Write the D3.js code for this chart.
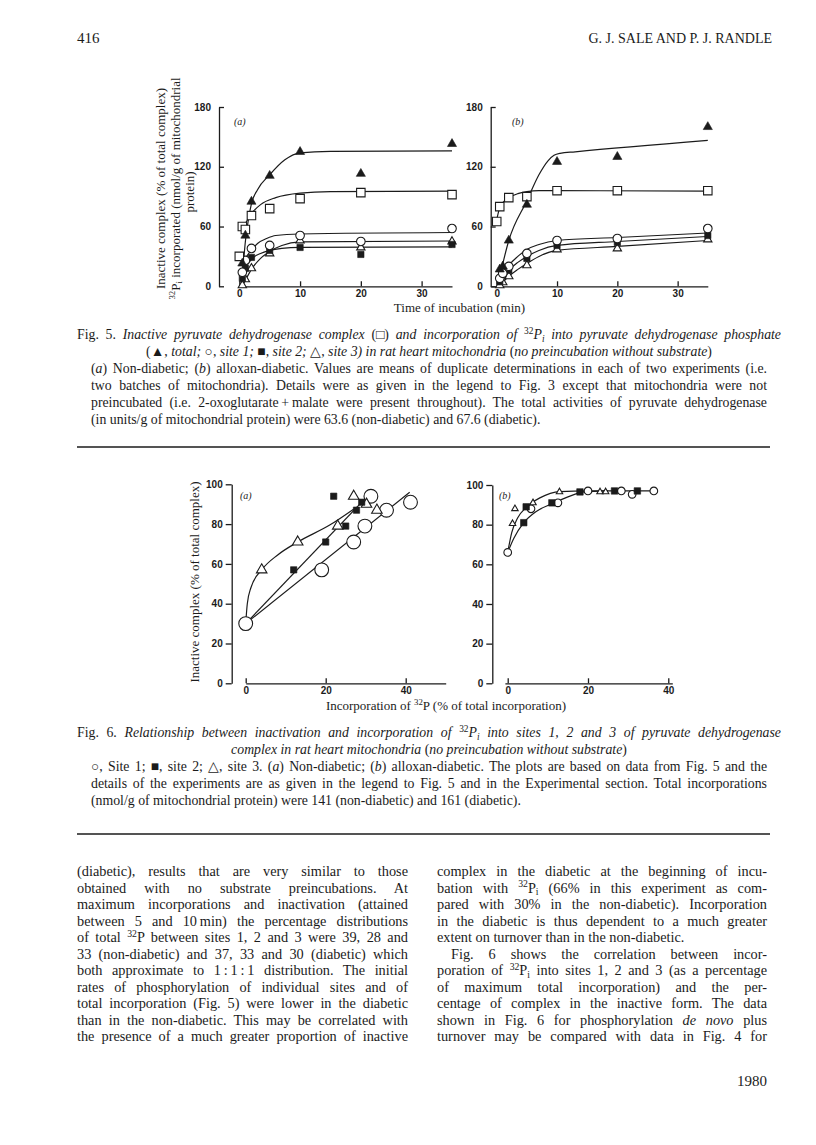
<!DOCTYPE html>
<html>
<head>
<meta charset="utf-8">
<script src="https://cdn.jsdelivr.net/npm/d3@7"></script>
<style>
  body { margin: 0; background: #fff; }
  svg { display: block; }
</style>
</head>
<body>
<script>
const width = 816;
const height = 1145;
const ink = "#1b1b1b";
const serif = "'Liberation Serif', 'Times New Roman', serif";
const sans = "'Liberation Sans', Arial, sans-serif";

// ---- Fig. 5 data: [time (min), value] ----
// (a) non-diabetic
const f5aInactive = [[0, 30], [0.5, 60], [1, 57], [2, 71], [5, 78], [10, 88], [20, 94], [35, 92]];
const f5aTotal = [[0.5, 23], [1, 51], [2, 85], [5, 111], [10, 135], [20, 113], [35, 143]];
const f5aSite1 = [[0.5, 14], [1, 26], [2, 38], [5, 41], [10, 51], [20, 45], [35, 58]];
const f5aSite2 = [[0.5, 8], [1, 18], [2, 29], [5, 36], [10, 39], [20, 32], [35, 42]];
const f5aSite3 = [[0.5, 1], [1, 7], [2, 18], [5, 33], [10, 46], [20, 39], [35, 45]];
// hand-drawn curves
const f5aInactiveFit = [[0.5, 57], [1, 63], [2, 73], [3.5, 82], [6, 89], [10, 93.5], [15, 95], [35, 95.5]];
const f5aTotalFit = [[0.3, 0], [0.7, 25], [1, 45], [1.5, 67], [2, 83], [3, 97], [5, 112], [7.5, 127], [10, 134], [15, 135.5], [35, 136]];
const f5aSite1Fit = [[0.3, 1], [1, 27], [2, 36], [3, 43], [4.5, 48], [6, 51], [10, 52.5], [35, 54]];
const f5aSite2Fit = [[0.3, 0], [1, 17], [2, 27], [3.5, 33], [5, 36], [7, 38], [10, 39], [35, 39.5]];
const f5aSite3Fit = [[0.5, 0], [1, 6], [2, 17], [3.5, 28], [5, 35], [7, 41], [10, 44.5], [35, 45.5]];

// (b) alloxan-diabetic
const f5bInactive = [[0, 65], [0.5, 80], [2, 89], [5, 90], [10, 96], [20, 96], [35, 96]];
const f5bTotal = [[0.5, 17], [1, 20], [2, 46], [5, 82], [10, 125], [20, 130], [35, 160]];
const f5bSite1 = [[0.5, 8], [1, 13], [2, 20], [5, 33], [10, 46], [20, 48], [35, 58]];
const f5bSite2 = [[0.5, 5], [1, 11], [2, 16], [5, 28], [10, 41], [20, 44], [35, 51]];
const f5bSite3 = [[0.5, 1], [1, 4], [2, 10], [5, 21], [10, 37], [20, 38], [35, 47]];
const f5bInactiveFit = [[0, 67], [0.5, 79], [1, 84], [2, 89], [3.5, 93], [5, 95], [7, 96], [10, 96], [35, 95.5]];
const f5bTotalFit = [[0.25, 3], [2, 46], [5, 86], [7, 112], [8.5, 126], [9.5, 131.5], [10.5, 133.5], [13, 135], [35, 146.5]];
const f5bSite1Fit = [[0.3, 3], [1, 12], [2, 21], [3.5, 30], [5, 37], [7, 42], [10, 46], [20, 49], [35, 53.5]];
const f5bSite2Fit = [[0.3, 1], [1, 8], [2, 16], [3.5, 24], [5, 30], [7, 36], [10, 41], [20, 45], [35, 50]];
const f5bSite3Fit = [[0.5, 0], [1, 4], [2, 10], [3.5, 17], [5, 23], [7, 30], [10, 36], [20, 40], [35, 46]];

const f5yTicks = [0, 60, 120, 180];
const f5xTicks = [0, 10, 20, 30];

// ---- Fig. 6 data: [32P incorporation (% of total), inactive complex (%)] ----
const f6aSite1 = [[0, 30], [19, 57], [27, 71], [29.8, 79], [31.3, 94], [35.2, 87], [41.2, 91]];
const f6aSite2 = [[12, 57], [20, 71], [25, 79], [22, 94], [27.7, 87], [29, 91]];
const f6aSite3 = [[4, 57], [13, 71], [23, 79], [27, 94], [30.2, 90], [32.8, 87]];
const f6aSite1Fit = [[0, 30], [41, 96]];
const f6aSite2Fit = [[0, 30], [29, 91]];
const f6aSite3Fit = [[0, 30], [0.4, 40], [1.3, 48], [4, 57], [8, 64.5], [13, 71], [21, 79.5], [27.7, 88.5]];

const f6bSite1 = [[0, 66], [5.8, 88], [12.5, 91], [20, 97], [28.3, 97], [31, 95.3], [36.4, 97]];
const f6bSite2 = [[4, 81], [4.6, 89], [11, 91], [18, 96.5], [26.6, 97], [32.3, 97]];
const f6bSite3 = [[1.2, 80.5], [1.8, 88], [6.3, 91], [12.9, 96.5], [23, 96.5], [24.4, 96.5]];
const f6bUpperFit = [[0, 66], [1, 76], [2.5, 83.5], [4.6, 88.7], [8, 93.5], [13, 96.7], [20, 97], [36.4, 97]];
const f6bLowerFit = [[0, 66], [1.5, 73], [4, 81], [7, 86.5], [11, 90.5], [15, 94], [19, 96.5], [25, 97]];

const f6yTicks = [0, 20, 40, 60, 80, 100];
const f6xTicks = [0, 20, 40];

// ---- text ----
const headLeft = "416";
const headRight = "G. J. SALE AND P. J. RANDLE";
const pageYear = "1980";

const f5yLabel = ["Inactive complex (% of total complex)", "^32^P_i_ incorporated (nmol/g of mitochondrial", "protein)"];
const f5xLabel = "Time of incubation (min)";
const f6yLabel = "Inactive complex (% of total complex)";
const f6xLabel = "Incorporation of ^32^P (% of total incorporation)";

const f5Title = [
  "Fig. 5. *Inactive pyruvate dehydrogenase complex* (\u25A1) *and incorporation of* ^32^*P*_*i*_ *into pyruvate dehydrogenase phosphate*",
  "(\u25B2, *total;* \u25CB, *site 1;* \u25A0, *site 2;* \u25B3, *site 3) in rat heart mitochondria* (*no preincubation without substrate*)"
];
const f5Legend = [
  "(*a*) Non-diabetic; (*b*) alloxan-diabetic. Values are means of duplicate determinations in each of two experiments (i.e.",
  "two batches of mitochondria). Details were as given in the legend to Fig. 3 except that mitochondria were not",
  "preincubated (i.e. 2-oxoglutarate\u2009+\u2009malate were present throughout). The total activities of pyruvate dehydrogenase",
  "(in units/g of mitochondrial protein) were 63.6 (non-diabetic) and 67.6 (diabetic)."
];
const f6Title = [
  "Fig. 6. *Relationship between inactivation and incorporation of* ^32^*P*_*i*_ *into sites 1, 2 and 3 of pyruvate dehydrogenase*",
  "*complex in rat heart mitochondria* (*no preincubation without substrate*)"
];
const f6Legend = [
  "\u25CB, Site 1; \u25A0, site 2; \u25B3, site 3. (*a*) Non-diabetic; (*b*) alloxan-diabetic. The plots are based on data from Fig. 5 and the",
  "details of the experiments are as given in the legend to Fig. 5 and in the Experimental section. Total incorporations",
  "(nmol/g of mitochondrial protein) were 141 (non-diabetic) and 161 (diabetic)."
];

const bodyLeft = [
  "(diabetic), results that are very similar to those",
  "obtained with no substrate preincubations. At",
  "maximum incorporations and inactivation (attained",
  "between 5 and 10\u2009min) the percentage distributions",
  "of total ^32^P between sites 1, 2 and 3 were 39, 28 and",
  "33 (non-diabetic) and 37, 33 and 30 (diabetic) which",
  "both approximate to 1\u2009:\u20091\u2009:\u20091 distribution. The initial",
  "rates of phosphorylation of individual sites and of",
  "total incorporation (Fig. 5) were lower in the diabetic",
  "than in the non-diabetic. This may be correlated with",
  "the presence of a much greater proportion of inactive"
];
const bodyRight = [
  "complex in the diabetic at the beginning of incu-",
  "bation with ^32^P_i_ (66% in this experiment as com-",
  "pared with 30% in the non-diabetic). Incorporation",
  "in the diabetic is thus dependent to a much greater",
  "extent on turnover than in the non-diabetic.",
  "Fig. 6 shows the correlation between incor-",
  "poration of ^32^P_i_ into sites 1, 2 and 3 (as a percentage",
  "of maximum total incorporation) and the per-",
  "centage of complex in the inactive form. The data",
  "shown in Fig. 6 for phosphorylation *de novo* plus",
  "turnover may be compared with data in Fig. 4 for"
];

const svg = d3
  .select("body")
  .append("svg")
  .attr("width", width)
  .attr("height", height)
  .style("background", "#fff");

// *italic*, ^sup^, _sub_
function parseRich(str) {
  const segs = [];
  let it = false, mode = null, buf = "";
  for (const ch of str) {
    if (ch === "*") {
      if (buf) segs.push({ t: buf, it, mode });
      buf = "";
      it = !it;
    } else if (ch === "^" || ch === "_") {
      if (buf) segs.push({ t: buf, it, mode });
      buf = "";
      const m = ch === "^" ? "sup" : "sub";
      mode = mode === m ? null : m;
    } else buf += ch;
  }
  if (buf) segs.push({ t: buf, it, mode });
  return segs;
}

function richText(parent, str, size) {
  const t = parent
    .append("text")
    .attr("font-family", serif)
    .attr("font-size", size)
    .attr("fill", ink)
    .style("white-space", "pre");
  let shift = 0;
  parseRich(str).forEach((s) => {
    const ts = t.append("tspan").text(s.t);
    if (s.it) ts.attr("font-style", "italic");
    const target = s.mode === "sup" ? -0.36 * size : s.mode === "sub" ? 0.2 * size : 0;
    if (target !== shift) {
      ts.attr("dy", target - shift);
      shift = target;
    }
    if (s.mode) ts.attr("font-size", size * 0.68);
  });
  return t;
}

// one line of set text; align = justify | left | center | right
function setLine(parent, str, x0, x1, y, size, align) {
  const t = richText(parent, str, size).attr("y", y);
  const w = t.node().getComputedTextLength();
  if (align === "justify") {
    const n = (str.match(/ /g) || []).length;
    t.attr("x", x0);
    if (n) t.style("word-spacing", (x1 - x0 - w) / n + "px");
  } else if (align === "center") {
    t.attr("x", (x0 + x1) / 2 - w / 2);
  } else if (align === "right") {
    t.attr("x", x1 - w);
  } else {
    t.attr("x", x0);
  }
  return t;
}

// ---- page head ----
setLine(svg, headLeft, 77, 200, 43, 15, "left");
setLine(svg, headRight, 500, 772, 43, 14, "right");

// ---- helpers for the plots ----
const sym = {
  square: d3.symbolSquare,
  circle: d3.symbolCircle,
  triangle: d3.symbolTriangle
};

function drawFit(g, pts, x, y) {
  g.append("path")
    .datum(pts)
    .attr("fill", "none")
    .attr("stroke", ink)
    .attr("stroke-width", 1.2)
    .attr("d", d3.line().x((d) => x(d[0])).y((d) => y(d[1])).curve(d3.curveMonotoneX));
}

function drawPoints(g, pts, x, y, shape, size, filled) {
  g.append("g")
    .selectAll("path")
    .data(pts)
    .join("path")
    .attr("transform", (d) => `translate(${x(d[0])},${y(d[1])})`)
    .attr("d", d3.symbol().type(sym[shape]).size(size))
    .attr("fill", filled ? ink : "#fff")
    .attr("stroke", ink)
    .attr("stroke-width", filled ? 0.6 : 1.1);
}

function styleAxis(g) {
  g.select(".domain").attr("stroke", ink).attr("stroke-width", 1.3);
  g.selectAll(".tick line").attr("stroke", ink).attr("stroke-width", 1.3);
  g.selectAll(".tick text")
    .attr("fill", ink)
    .attr("font-family", sans)
    .attr("font-size", 10)
    .attr("font-weight", "bold");
}

function panelLabel(g, str, px, py) {
  g.append("text")
    .attr("x", px)
    .attr("y", py)
    .attr("font-family", serif)
    .attr("font-style", "italic")
    .attr("font-size", 10)
    .attr("fill", ink)
    .text(str);
}

// ---- Fig. 5 ----
const f5 = svg.append("g");
const y5 = d3.scaleLinear().domain([0, 180]).range([286.3, 107]);
const x5a = d3.scaleLinear().domain([0, 35]).range([239.3, 452]);
const x5b = d3.scaleLinear().domain([-1, 35]).range([490.7, 707.8]);

[
  { x: x5a, axisX: 219, label: "(a)", lx: 234, sets: [f5aInactive, f5aTotal, f5aSite1, f5aSite2, f5aSite3], fits: [f5aInactiveFit, f5aTotalFit, f5aSite1Fit, f5aSite2Fit, f5aSite3Fit] },
  { x: x5b, axisX: 490.7, label: "(b)", lx: 512, sets: [f5bInactive, f5bTotal, f5bSite1, f5bSite2, f5bSite3], fits: [f5bInactiveFit, f5bTotalFit, f5bSite1Fit, f5bSite2Fit, f5bSite3Fit] }
].forEach((p) => {
  const g = f5.append("g");
  const ya = g.append("g")
    .attr("transform", `translate(${p.axisX},0)`)
    .call(d3.axisLeft(y5).tickValues(f5yTicks).tickSize(-5).tickSizeOuter(0).tickPadding(8));
  styleAxis(ya);
  const xa = g.append("g")
    .attr("transform", `translate(0,${y5(0)})`)
    .call(d3.axisBottom(p.x).tickValues(f5xTicks).tickSize(-5).tickSizeOuter(0).tickPadding(4));
  styleAxis(xa);
  panelLabel(g, p.label, p.lx, 125);

  p.fits.forEach((f) => drawFit(g, f, p.x, y5));
  drawPoints(g, p.sets[4], p.x, y5, "triangle", 30, false);
  drawPoints(g, p.sets[3], p.x, y5, "square", 40, true);
  drawPoints(g, p.sets[2], p.x, y5, "circle", 58, false);
  drawPoints(g, p.sets[0], p.x, y5, "square", 72, false);
  drawPoints(g, p.sets[1], p.x, y5, "triangle", 36, true);
});

// y title (three lines, rotated)
[165, 179.5, 194].forEach((bx, i) => {
  const t = richText(f5, f5yLabel[i], 13);
  const w = t.node().getComputedTextLength();
  const cy = i === 2 ? 192 : 188.5;
  t.attr("transform", `translate(${bx},${cy + w / 2}) rotate(-90)`);
});
setLine(f5, f5xLabel, 396, 523, 311.5, 13, "center");

// caption
const capLead = 17;
setLine(svg, f5Title[0], 77, 781, 339, 13.8, "justify");
setLine(svg, f5Title[1], 77, 781, 339 + capLead, 13.8, "center");
f5Legend.forEach((s, i) => {
  setLine(svg, s, 91, 767, 339 + (i + 2) * capLead, 13.8, i < 3 ? "justify" : "left");
});

// rule
svg.append("line").attr("x1", 77).attr("x2", 770).attr("y1", 447).attr("y2", 447)
  .attr("stroke", ink).attr("stroke-width", 1.6);

// ---- Fig. 6 ----
const f6 = svg.append("g");
const y6a = d3.scaleLinear().domain([0, 100]).range([683.3, 484.3]);
const y6b = d3.scaleLinear().domain([0, 100]).range([683.3, 485]);
const x6a = d3.scaleLinear().domain([0, 50]).range([245.7, 445.7]);
const x6b = d3.scaleLinear().domain([-0.7, 41]).range([504.9, 672.3]);

function f6Axes(g, x, y, axisX) {
  const ya = g.append("g")
    .attr("transform", `translate(${axisX},0)`)
    .call(d3.axisLeft(y).tickValues(f6yTicks).tickSize(6).tickSizeOuter(0).tickPadding(3));
  styleAxis(ya);
  const xa = g.append("g")
    .attr("transform", `translate(0,${y(0)})`)
    .call(d3.axisBottom(x).tickValues(f6xTicks).tickSize(-5).tickSizeOuter(0).tickPadding(4));
  styleAxis(xa);
}

const g6a = f6.append("g");
f6Axes(g6a, x6a, y6a, 231.7);
panelLabel(g6a, "(a)", 240, 499);
[f6aSite1Fit, f6aSite2Fit, f6aSite3Fit].forEach((f) => drawFit(g6a, f, x6a, y6a));
drawPoints(g6a, f6aSite1, x6a, y6a, "circle", 150, false);
drawPoints(g6a, f6aSite3, x6a, y6a, "triangle", 48, false);
drawPoints(g6a, f6aSite2, x6a, y6a, "square", 40, true);

const g6b = f6.append("g");
f6Axes(g6b, x6b, y6b, 492.3);
panelLabel(g6b, "(b)", 499, 499);
[f6bUpperFit, f6bLowerFit].forEach((f) => drawFit(g6b, f, x6b, y6b));
drawPoints(g6b, f6bSite1, x6b, y6b, "circle", 46, false);
drawPoints(g6b, f6bSite2, x6b, y6b, "square", 42, true);
drawPoints(g6b, f6bSite3, x6b, y6b, "triangle", 18, false);

{
  const t = richText(f6, f6yLabel, 13);
  const w = t.node().getComputedTextLength();
  t.attr("transform", `translate(199,${582 + w / 2}) rotate(-90)`);
}
setLine(f6, f6xLabel, 329, 563, 710, 13, "center");

setLine(svg, f6Title[0], 77, 781, 737, 13.8, "justify");
setLine(svg, f6Title[1], 77, 781, 737 + capLead, 13.8, "center");
f6Legend.forEach((s, i) => {
  setLine(svg, s, 91, 767, 737 + (i + 2) * capLead, 13.8, i < 2 ? "justify" : "left");
});

svg.append("line").attr("x1", 77).attr("x2", 770).attr("y1", 834).attr("y2", 834)
  .attr("stroke", ink).attr("stroke-width", 1.6);

// ---- body text, two columns ----
const lead = 16.5;
bodyLeft.forEach((s, i) => {
  setLine(svg, s, 77, 408, 876 + i * lead, 14.3, "justify");
});
bodyRight.forEach((s, i) => {
  const indent = i === 5 ? 14 : 0;
  setLine(svg, s, 437 + indent, 767, 876 + i * lead, 14.3, i === 4 ? "left" : "justify");
});
setLine(svg, pageYear, 600, 767, 1086, 15, "right");
</script>
</body>
</html>
